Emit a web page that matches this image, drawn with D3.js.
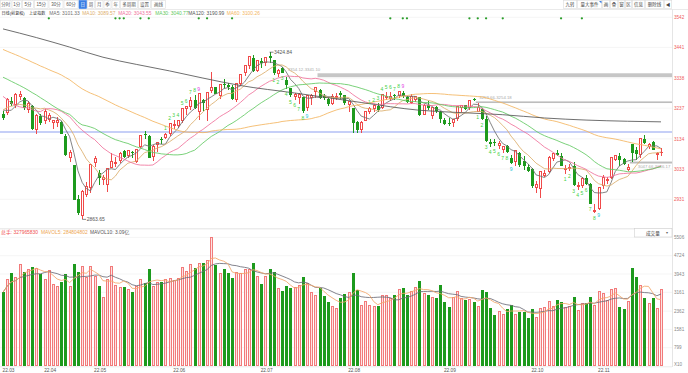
<!DOCTYPE html>
<html><head><meta charset="utf-8">
<script src="https://cdn.jsdelivr.net/npm/d3@7"></script>
<style>
html,body{margin:0;padding:0;background:#fff;}
svg{display:block;}
</style></head><body>
<svg id="c" width="688" height="373"></svg>
<script>
// ---------------- DATA ----------------
// closes before the first visible bar (needed for the moving averages)
const priorCloses = [3630.11,3597.00,3619.19,3639.78,
3632.33,3595.18,3586.08,3579.54,3593.52,3567.44,3597.43,3555.26,3521.26,3541.67,3569.91,3558.18,3555.06,3522.57,3524.11,3433.06,3455.67,3394.25,3361.44,
3429.58,3452.63,3479.95,3485.91,3462.95,3428.88,
3446.65,3465.83,3468.04,3490.76,3490.61,3457.15,3489.15,3429.96,3451.41,3462.31,
3488.83,3484.19,3481.11,3447.65,3372.86,3293.53,3256.39,3296.09,3309.75,3223.53,3063.97,3170.71,3215.04,3251.07,3253.69,3259.86,3271.03,3250.26,3212.24,3214.50];

const opens = [3216,3222,3261,3249,3273,3270,3230,3245,3165,3212,3195,3197,3186,3188,3192,3145,3069,3045,2932,2874,2946,2968,
3052,3020,2996,2978,3036,3048,3059,3094,3075,3091,3056,3106,3150,3143,3074,3112,3133,3138,3150,
3178,3176,3195,3233,3242,3264,3223,3264,3232,3296,3307,3277,3318,3315,3309,3266,3319,3355,3380,3405,3361,
3395,3389,3413,3398,3350,3373,3333,3303,3273,3270,3273,3237,3270,3290,3299,3279,3268,3251,3271,3287,3280,
3249,3237,3190,3165,3194,3224,3233,3244,3237,3270,3267,3280,3277,3288,3276,3255,3266,3273,3213,3248,3210,3240,3225,
3196,3187,3186,3199,3236,3248,3236,3268,3225,3235,3199,3122,3123,3109,3095,3111,3069,3055,3086,3060,3041,
3034,2970,2964,3010,3023,3067,3086,3077,3028,3034,3044,2973,2977,3002,2981,2890,
2899,2975,2993,3003,3064,3075,3065,3030,3118,3097,3080,3134,3108,3123,3081,3085];
const highs = [3229,3270,3275,3287,3295,3274,3262,3247,3218,3217,3234,3222,3196,3206,3195,3150,3098,3046,2946,2961,2990,3048,
3075,3029,3014,3036,3087,3072,3090,3098,3094,3092,3097,3148,3160,3148,3112,3124,3140,3155,3187,
3196,3197,3237,3245,3273,3280,3285,3269,3289,3358,3308,3317,3335,3320,3315,3320,3350,3381,3409,3414,3400,
3405,3406,3424.84,3399,3367,3375,3341.10,3305,3289,3289,3273,3282,3283,3306,3302,3286,3273,3283,3288,3296,3281,
3262,3238,3195,3194,3227,3241,3248,3253,3283,3290,3290,3284,3294,3294,3279,3283,3279,3276,3250,3260,3241,3245,3227,
3205,3203,3202,3244,3249,3248,3263,3272,3254.18,3237,3210,3133,3133,3126,3109,3112,3081,3094,3089,3075,3050,
3036,2991,3026,3031,3076,3087,3097,3086,3046,3050,3055,2990,3005,3013,2986,2916,
2970,3011,3005,3072,3078,3085,3071,3051.17,3118,3105,3138,3147,3119,3127,3091,3104];
const lows = [3196,3213,3245,3238,3263,3230,3220,3163,3150,3182,3185,3191,3167,3175,3150,3077,3057,2928,2878,2863.65,2940,2951,
3038,2979,2980,2955,3035,3040,3053,3068,3071,3071,3053,3103,3133,3068,3060,3089,3117,3132,3142,
3166,3172,3186,3215,3232,3233,3196,3229,3195,3287,3283,3269,3306,3297,3265,3259,3313,3344,3369,3358,3358,
3373,3377,3390,3348,3340,3354.12,3301,3275,3264,3250,3222,3228,3249,3271,3268,3264,3243,3248,3264,3268,3249,
3224,3155,3155,3155,3193,3216,3224,3223,3233,3266,3262,3263,3272,3270,3255,3250,3257,3212,3213,3231,3200,3222,3186,
3180,3177,3175,3194,3225,3232,3231,3259.66,3224,3196,3124,3106,3110,3100,3085,3086,3049,3044,3041,3028,3021,
2968,2951,2934,3005,3020,3058,3075,3042,3016,3025,2975,2962,2970,2979,2914,2885,
2896,2965,2981,2999,3058,3044,3047,3026,3057.66,3064,3071,3116,3100,3096,3064,3076];
const closes = [3203.94,3266.60,3252.20,3282.72,3283.43,3236.70,3251.85,3167.13,3213.33,3186.82,3225.64,3211.24,3195.52,3194.03,3151.05,3079.81,3086.92,2928.51,2886.43,2958.28,2975.48,3047.06,
3067.76,3001.56,3004.14,3035.84,3058.70,3054.99,3084.28,3073.75,3093.70,3085.98,3096.96,3146.86,3146.57,3070.93,3107.46,3123.11,3130.24,3149.06,3186.43,
3182.16,3195.46,3236.37,3241.76,3263.79,3238.95,3284.83,3255.55,3288.91,3305.41,3285.38,3316.79,3315.43,3306.72,3267.20,3320.15,3349.75,3379.19,3409.21,3361.52,3398.62,
3387.64,3405.43,3404.03,3355.35,3364.40,3356.08,3313.58,3281.47,3284.29,3281.74,3228.06,3278.10,3279.43,3304.72,3272.00,3269.97,3250.39,3277.44,3275.76,3282.58,3253.24,
3259.96,3186.27,3163.67,3189.04,3227.03,3236.93,3247.43,3230.02,3281.67,3276.89,3276.09,3277.88,3292.53,3277.54,3258.08,3277.79,3276.22,3215.20,3246.25,3236.22,3240.73,3227.22,3202.14,
3184.98,3186.48,3199.91,3243.45,3246.29,3235.59,3262.05,3263.80,3237.54,3199.92,3126.40,3115.60,3122.41,3117.18,3108.91,3088.37,3051.23,3093.86,3045.07,3041.20,3024.39,
2974.15,2979.79,3025.51,3016.36,3071.99,3084.94,3080.96,3044.38,3035.05,3038.93,2977.56,2976.28,2999.50,2982.90,2915.93,2893.48,
2969.20,3003.37,2997.81,3070.80,3077.82,3064.49,3048.17,3036.13,3087.29,3083.40,3134.08,3119.98,3115.43,3097.24,3085.04,3088.94];
// volume, in units of 10^5 lots
const volumes = [3163,3688,3973,3803,4328,4042,4144,4255,4187,3931,3717,4101,3504,3402,3615,3931,3431,4357,4016,4272,3803,4255,
3858,3444,2932,3717,4255,3474,3375,3402,3261,3163,3402,3730,3547,4157,3431,3572,3589,3688,3760,
3658,3760,4230,4042,4357,4213,4400,4400,4511,5500,4328,3973,4144,3973,3760,4016,3944,4144,4144,4400,3830,
3517,3830,4144,4016,3333,3231,3431,3360,3360,3444,3803,3547,3146,3047,3333,3005,2736,2548,2480,2906,3077,
3146,3973,3261,2620,2762,2620,2578,2591,3005,3005,2906,3047,3290,3333,3047,3190,3375,3658,3120,3047,2962,2934,3474,
2762,2522,2962,3190,2906,2834,2863,2762,2578,3261,3163,2480,2194,2335,2236,2437,2620,2194,2335,2335,2053,
2437,2096,2480,2505,2762,2548,2834,2762,2522,2548,2975,2407,2693,2693,2948,2620,
3190,3120,2805,3261,3333,2548,2450,2750,4200,3800,3460,2910,2700,2900,2450,3279.66];

// MA120 at a few bars
const ma120Idx = [0,8,16,24,32,40,48,57,70,86,100,110,120,130,140,150,158];
const ma120Val = [3503,3474,3442,3408,3384,3362,3338,3313,3288,3256,3230,3222,3215,3204,3197,3193,3190.99];

const maNames  = ["MA5","MA10","MA20","MA30","MA120","MA60"];
const maValues = ["3101.33","3089.57","3043.55","3040.77","3190.99","3100.26"];

const priceTicks = [3542,3441,3338,3237,3134,3033,2931];
const volTicks   = [5506,4724,3943,3161,2362,1581,799];
const monthLabels = ["22.03","22.04","22.05","22.06","22.07","22.08","22.09","22.10","22.11"];
const monthIdx    = [0,10,22,41,62,83,106,127,143];

const gapHi = [3354.12,3259.66,3057.66];
const gapLo = [3341.10,3254.18,3051.17];
const gapIdx = [76,114,151];
const gapLabelIdx = [68,114,151];
const gapText = ["3354.12-3341.10","3259.66-3254.18","3047.66-3036.17"];
const blueLevel = [3157];
const eventIdx = [11,27,28,29,33,35,47,49,55,93,96,97,112,114,116,120,134,139];

const volHeader = ["总手: 327965830","MAVOL5: 284804802","MAVOL10: 3.09亿"];

const tbLabels = ["分时","1分","5分","15分","30分","60分","日","周","月","季","年","多周期","设置","画线"];
const tbEdges  = [0,11.5,22,34,48.5,63.5,78.5,87,95,103.5,111.5,120,138,151,166];
const rtLabels = ["九转","量大事件","画","叠","窗","区","信息","删除线","◀"];
const rtEdges  = [563,577,602,610,618,625,632,645,664,672];

// ---------------- CHART ----------------
const FL = '"Liberation Sans", "Noto Sans CJK SC", Arial, sans-serif';
const FC = '"Noto Sans CJK SC", "Liberation Sans", sans-serif';
const RED = "#f04a4a", GREEN = "#1d9a1d";
const svg = d3.select("#c");
const n = closes.length;
const PR = 672; // plot right
const x  = d3.scaleLinear().domain([0, n-1]).range([3, 661]);
const y  = d3.scaleLinear().domain([2931, 3542]).range([199.3, 17.3]);
const yv = d3.scaleLinear().domain([0, 5506]).range([366.4, 237.4]);
const px = i => Math.round(x(i));

// toolbar
const tb = svg.append("g");
tbLabels.forEach((t,k)=>{
  const x0=tbEdges[k], x1=tbEdges[k+1];
  tb.append("rect").attr("x",x0+0.5).attr("y",0.5).attr("width",x1-x0-1).attr("height",8)
    .attr("fill", k===6 ? "#3a7ee4" : "#fff").attr("stroke", k===6 ? "#3a7ee4" : "#dcdcdc").attr("stroke-width",0.6);
  tb.append("text").attr("x",(x0+x1)/2).attr("y",6.3).attr("text-anchor","middle")
    .attr("font-family",FL).attr("font-size",4.5).attr("fill", k===6 ? "#fff" : "#555").text(t);
});
rtLabels.forEach((t,k)=>{
  const x0=rtEdges[k], x1=rtEdges[k+1];
  tb.append("rect").attr("x",x0+0.3).attr("y",0.5).attr("width",x1-x0-0.6).attr("height",8)
    .attr("fill","#fff").attr("stroke","#dcdcdc").attr("stroke-width",0.6);
  tb.append("text").attr("x",(x0+x1)/2).attr("y",6.3).attr("text-anchor","middle")
    .attr("font-family",FL).attr("font-size",4.5).attr("fill","#444").text(t);
});
tb.append("path").attr("d",`M${rtEdges[2]-3},1 L${rtEdges[2]-0.5},1 L${rtEdges[2]-0.5},3.5Z`).attr("fill","#3a7ee4");
svg.append("line").attr("x1",0).attr("x2",688).attr("y1",9.5).attr("y2",9.5).attr("stroke","#e4e4e4").attr("stroke-width",0.8);

// legend line
const lg = svg.append("text").attr("y",15.2).attr("font-size",4.9).attr("font-family",FL);
lg.append("tspan").attr("x",1.5).attr("font-size",4.1).attr("fill","#333").text("日线(前复权)");
lg.append("tspan").attr("x",29).attr("font-size",4.1).attr("fill","#333").text("上证指数");
const maColors = ["#6f6f6f","#dcae6c","#f0739c","#62c962","#555555","#f3b560"];
const legendX = [49.3,82.3,118.3,155.3,188.3,226.7];
maNames.forEach((m,k)=>{
  lg.append("tspan").attr("x",legendX[k]).attr("fill",maColors[k]).text(m+": "+maValues[k]);
});

// grid
const grid = svg.append("g").attr("stroke","#f1f1f1").attr("stroke-width",0.7);
priceTicks.forEach(v=>grid.append("line").attr("x1",0).attr("x2",PR).attr("y1",y(v)).attr("y2",y(v)));
volTicks.forEach(v=>grid.append("line").attr("x1",0).attr("x2",PR).attr("y1",yv(v)).attr("y2",yv(v)));
svg.append("line").attr("x1",PR+0.5).attr("x2",PR+0.5).attr("y1",9.5).attr("y2",367).attr("stroke","#dedede").attr("stroke-width",0.8);
svg.append("line").attr("x1",0).attr("x2",PR).attr("y1",228.8).attr("y2",228.8).attr("stroke","#dcdcdc").attr("stroke-width",0.8);
svg.append("line").attr("x1",0).attr("x2",PR).attr("y1",366.8).attr("y2",366.8).attr("stroke","#dcdcdc").attr("stroke-width",0.6);

// price axis labels
priceTicks.forEach(v=>svg.append("text").attr("x",674).attr("y",y(v)+1.7).attr("font-size",4.6)
  .attr("font-family",FL).attr("fill","#ef5a5a").text(v));

// gap bands
gapHi.forEach((h,k)=>{
  const x0 = x(gapIdx[k]) - 2;
  svg.append("rect").attr("x",x0).attr("y",y(h)).attr("width",PR-x0).attr("height",Math.max(1.4,y(gapLo[k])-y(h)))
    .attr("fill", k===0 ? "#c6c6c6" : "#bdbdbd");
  const below = k===2;
  svg.append("text").attr("x", x(gapLabelIdx[k]) + (below? 6:1.5)).attr("y", below ? y(gapLo[k])+4.2 : y(h)-2.6)
    .attr("font-size",4.3).attr("font-family",FL).attr("fill","#aaa").text(gapText[k]);
});
// blue level line
blueLevel.forEach(v=>svg.append("line").attr("x1",0).attr("x2",PR).attr("y1",y(v)).attr("y2",y(v))
  .attr("stroke","#8d9ff0").attr("stroke-width",1.1));

// event dots
svg.append("g").selectAll("circle").data(eventIdx).join("circle")
  .attr("cx",i=>x(i)).attr("cy",18.3).attr("r",1.15).attr("fill","#2a9d2a");

// candles
const cg = svg.append("g").attr("shape-rendering","crispEdges");
for(let i=0;i<n;i++){
  const o=opens[i], c=closes[i], up=c>=o, col=up?RED:GREEN;
  const cx=px(i)+0.5;
  const top=y(Math.max(o,c)), bot=y(Math.min(o,c));
  const bh=Math.max(1,bot-top);
  cg.append("line").attr("x1",cx).attr("x2",cx).attr("y1",y(highs[i])).attr("y2",top).attr("stroke",col).attr("stroke-width",1);
  cg.append("line").attr("x1",cx).attr("x2",cx).attr("y1",top+bh).attr("y2",y(lows[i])).attr("stroke",col).attr("stroke-width",1);
  if(up){
    cg.append("rect").attr("x",px(i)-0.5).attr("y",top).attr("width",2).attr("height",Math.max(0.5,bh-0.5))
      .attr("fill","#fff").attr("stroke",col).attr("stroke-width",1);
  } else {
    cg.append("rect").attr("x",px(i)-1).attr("y",top).attr("width",3).attr("height",bh).attr("fill",col);
  }
}

// moving averages
const all = priorCloses.concat(closes), off = priorCloses.length;
function ma(p){ const r=[]; for(let i=0;i<n;i++){ r.push({i, v:d3.mean(all.slice(off+i-p+1, off+i+1))}); } return r; }
const lineP = d3.line().x(d=>x(d.i)).y(d=>y(d.v));
const maSeries = [[ma(5),maColors[0]],[ma(10),maColors[1]],[ma(20),maColors[2]],[ma(30),maColors[3]],[ma(60),maColors[5]]];
maSeries.forEach(([d,c])=>svg.append("path").datum(d).attr("d",lineP).attr("fill","none").attr("stroke",c).attr("stroke-width",0.85));
const ma120 = ma120Idx.map((i,k)=>({i, v:ma120Val[k]}));
svg.append("path").datum(ma120).attr("d",lineP.curve(d3.curveMonotoneX)).attr("fill","none").attr("stroke",maColors[4]).attr("stroke-width",0.85);

// TD "九转" counts
const td=[]; let upc=0, dnc=0;
for(let k=4;k<all.length;k++){
  upc = all[k]>all[k-4] ? upc+1 : 0;
  dnc = all[k]<all[k-4] ? dnc+1 : 0;
  if(upc===9){ for(let j=0;j<9;j++) td.push({i:k-8+j-off, n:j+1, up:true}); upc=0; }
  if(dnc===9){ for(let j=0;j<9;j++) td.push({i:k-8+j-off, n:j+1, up:false}); dnc=0; }
}
td.filter(d=>d.i>=0).forEach(d=>{
  const col = d.n===9 ? (d.up ? "#e33ce3" : "#25c6d6") : "#3fcf3f";
  svg.append("text").attr("x",x(d.i)).attr("y", d.up ? y(highs[d.i])-3 : y(lows[d.i])+7)
    .attr("text-anchor","middle").attr("font-size",5).attr("font-family",FL).attr("fill",col).text(d.n);
});

// high / low markers
const hi = d3.maxIndex(highs), lo = d3.minIndex(lows);
svg.append("line").attr("x1",x(hi)).attr("x2",x(hi)+4).attr("y1",y(highs[hi])).attr("y2",y(highs[hi])).attr("stroke","#555").attr("stroke-width",0.7);
svg.append("text").attr("x",x(hi)+4.5).attr("y",y(highs[hi])+1.7).attr("font-size",5).attr("font-family",FL).attr("fill","#555").text(highs[hi].toFixed(2));
svg.append("line").attr("x1",x(lo)).attr("x2",x(lo)+4).attr("y1",y(lows[lo])).attr("y2",y(lows[lo])).attr("stroke","#555").attr("stroke-width",0.7);
svg.append("text").attr("x",x(lo)+4.5).attr("y",y(lows[lo])+1.7).attr("font-size",5).attr("font-family",FL).attr("fill","#555").text(lows[lo].toFixed(2));

// volume header
const vh = svg.append("text").attr("y",234.4).attr("font-size",4.9).attr("font-family",FL);
vh.append("tspan").attr("x",1).attr("fill","#f05050").text(volHeader[0]);
vh.append("tspan").attr("x",41).attr("fill","#eea650").text(volHeader[1]);
vh.append("tspan").attr("x",90).attr("fill","#555").text(volHeader[2]);
svg.append("rect").attr("x",634.5).attr("y",228.5).attr("width",37.5).attr("height",8.5).attr("fill","#fff").attr("stroke","#d0d0d0").attr("stroke-width",0.6);
svg.append("text").attr("x",646).attr("y",234.6).attr("font-size",4.6).attr("font-family",FC).attr("fill","#444").text("成交量");
svg.append("text").attr("x",665.5).attr("y",234.4).attr("font-size",4).attr("font-family",FL).attr("fill","#666").text("▾");

// volume bars
const vg = svg.append("g").attr("shape-rendering","crispEdges");
for(let i=0;i<n;i++){
  const up = closes[i]>=opens[i];
  const t = yv(volumes[i]), b = yv(0);
  if(up){
    vg.append("rect").attr("x",px(i)-0.5).attr("y",t).attr("width",2).attr("height",b-t-0.5)
      .attr("fill","#fde3e3").attr("stroke","#f27a7a").attr("stroke-width",1);
  } else {
    vg.append("rect").attr("x",px(i)-1).attr("y",t).attr("width",3).attr("height",b-t).attr("fill",GREEN);
  }
}
function mav(p){ const r=[]; for(let i=0;i<n;i++){ r.push({i, v:d3.mean(volumes.slice(Math.max(0,i-p+1), i+1))}); } return r; }
const lineV = d3.line().x(d=>x(d.i)).y(d=>yv(d.v));
svg.append("path").datum(mav(10)).attr("d",lineV).attr("fill","none").attr("stroke","#6d6d78").attr("stroke-width",0.85);
svg.append("path").datum(mav(5)).attr("d",lineV).attr("fill","none").attr("stroke","#f3a66a").attr("stroke-width",0.85);

// volume axis
volTicks.forEach(v=>svg.append("text").attr("x",674).attr("y",yv(v)+1.7).attr("font-size",4.6)
  .attr("font-family",FL).attr("fill","#888").text(v));
svg.append("text").attr("x",674).attr("y",365.5).attr("font-size",4.6).attr("font-family",FL).attr("fill","#888").text("X10");

// month labels
monthLabels.forEach((t,k)=>svg.append("text").attr("x",Math.max(1,x(monthIdx[k])-0.5)).attr("y",371.8)
  .attr("font-size",4.8).attr("font-family",FL).attr("fill","#555").text(t));
</script>
</body></html>
